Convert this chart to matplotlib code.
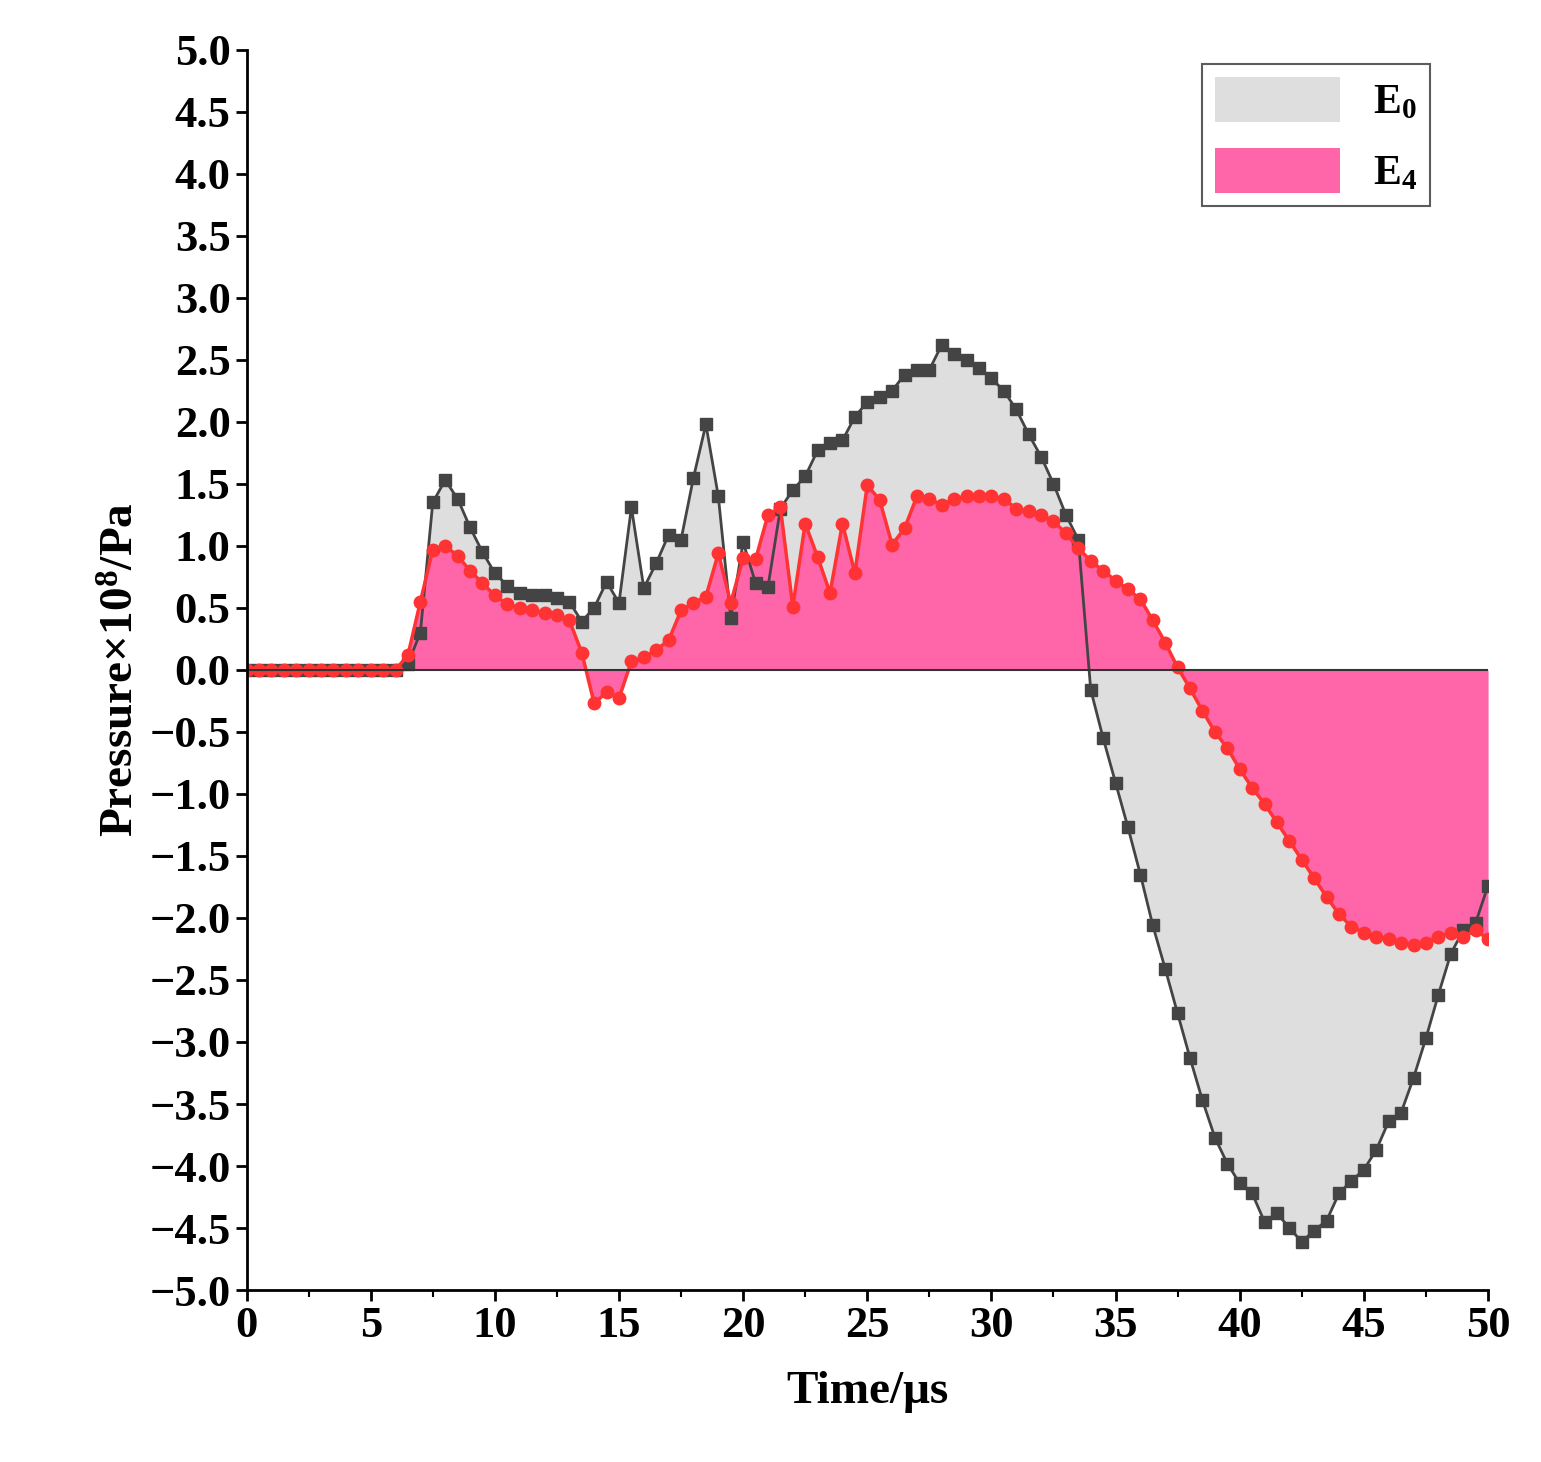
import numpy as np
import matplotlib.pyplot as plt
from matplotlib.ticker import MultipleLocator
from matplotlib.patches import Patch

plt.rcParams['font.family'] = ['Liberation Serif', 'DejaVu Serif']
plt.rcParams['font.weight'] = 'bold'
plt.rcParams['mathtext.fontset'] = 'custom'
plt.rcParams['mathtext.rm'] = 'Liberation Serif:bold'
plt.rcParams['mathtext.bf'] = 'Liberation Serif:bold'
plt.rcParams['mathtext.default'] = 'bf'

time = np.arange(0, 50.01, 0.5)

e0 = [0]*13 + [0.05, 0.3, 1.35, 1.53, 1.38, 1.15, 0.95, 0.78, 0.68, 0.62, 0.6, 0.6, 0.58,
      0.55, 0.39, 0.5, 0.71, 0.54, 1.31, 0.66, 0.86, 1.09, 1.05, 1.55, 1.98, 1.4, 0.42,
      1.03, 0.7, 0.67, 1.3, 1.45, 1.56, 1.77, 1.83, 1.85, 2.04, 2.16, 2.2, 2.25, 2.38,
      2.42, 2.42, 2.62, 2.55, 2.5, 2.43, 2.35, 2.25, 2.1, 1.9, 1.72, 1.5, 1.25, 1.05,
      -0.16, -0.55, -0.91, -1.27, -1.65, -2.06, -2.41, -2.77, -3.13, -3.47, -3.77, -3.98,
      -4.14, -4.22, -4.45, -4.38, -4.5, -4.61, -4.52, -4.44, -4.22, -4.12, -4.03, -3.87,
      -3.64, -3.57, -3.29, -2.97, -2.62, -2.29, -2.1, -2.04, -1.74]

e4 = [0]*13 + [0.12, 0.55, 0.97, 1.0, 0.92, 0.8, 0.7, 0.6, 0.53, 0.5, 0.48, 0.46, 0.44,
      0.4, 0.14, -0.27, -0.18, -0.23, 0.07, 0.1, 0.16, 0.24, 0.48, 0.54, 0.59, 0.94, 0.54,
      0.9, 0.89, 1.25, 1.31, 0.51, 1.18, 0.91, 0.62, 1.18, 0.78, 1.49, 1.37, 1.01, 1.14,
      1.4, 1.38, 1.33, 1.38, 1.4, 1.4, 1.4, 1.38, 1.3, 1.28, 1.25, 1.2, 1.1, 0.98,
      0.88, 0.8, 0.72, 0.65, 0.57, 0.4, 0.22, 0.02, -0.15, -0.33, -0.5, -0.63,
      -0.8, -0.95, -1.08, -1.23, -1.38, -1.53, -1.68, -1.83, -1.97, -2.07, -2.12, -2.15,
      -2.17, -2.2, -2.22, -2.2, -2.15, -2.12, -2.15, -2.1, -2.17]

fig = plt.figure(figsize=(15.41, 14.62), dpi=100)
ax = fig.add_axes([0.16, 0.1176, 0.8056, 0.8484])

ax.fill_between(time, 0, e0, color='#dedede', lw=0)
ax.plot(time, e0, color='#444444', lw=2, marker='s', ms=8)
ax.fill_between(time, 0, e4, color='#ff66aa', lw=0)
ax.plot(time, e4, color='#ff3333', lw=2.5, marker='o', ms=9)
ax.plot([0, 50], [0, 0], color='#333333', lw=1.5)

ax.set_xlim(0, 50)
ax.set_ylim(-5, 5)
ax.xaxis.set_major_locator(MultipleLocator(5))
ax.xaxis.set_minor_locator(MultipleLocator(2.5))
ax.yaxis.set_major_locator(MultipleLocator(0.5))
ax.spines['top'].set_visible(False)
ax.spines['right'].set_visible(False)
for s in ['left', 'bottom']:
    ax.spines[s].set_linewidth(2)
ax.tick_params(which='major', length=8, width=2, labelsize=32, direction='out')
ax.tick_params(which='minor', length=5, width=1.5, direction='out')
ax.set_yticklabels([f'{v:.1f}'.replace('-', '\u2212') for v in ax.get_yticks()])

ax.set_xlabel('Time/μs', fontsize=34, fontweight='bold', labelpad=18)
ax.set_ylabel('Pressure×10$^{8}$/Pa', fontsize=34, fontweight='bold', labelpad=4)

handles = [Patch(facecolor='#dedede', edgecolor='none'), Patch(facecolor='#ff66aa', edgecolor='none')]
leg = ax.legend(handles, ['E$_{0}$', 'E$_{4}$'], loc='upper right', fontsize=30,
                frameon=True, fancybox=False, edgecolor='#333333', handlelength=3.0,
                handleheight=1.3, borderpad=0.3, handletextpad=0.8, labelspacing=0.6,
                bbox_to_anchor=(0.97, 1.005))
leg.get_frame().set_linewidth(1.5)

fig.savefig('out.png', dpi=100)
